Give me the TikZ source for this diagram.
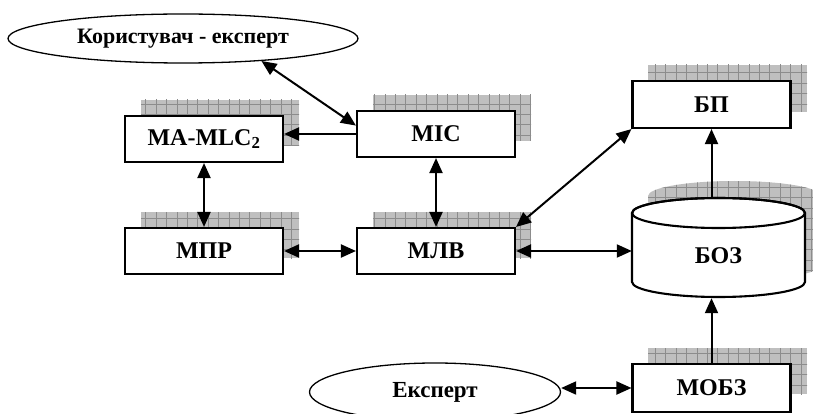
\documentclass[tikz,border=0pt]{standalone}
\usepackage{fontspec}
\setmainfont{Liberation Serif}
\usetikzlibrary{arrows.meta,shapes.geometric}
\newcommand\gridshade[4]{%
  \begin{scope}
    \clip (#1,#2) rectangle (#3,#4);
    \fill[shfill] (#1,#2) rectangle (#3,#4);
    \draw[shgrid,step=10.4pt] (#1-2,#4+2) grid (#3+2,#2-2);
  \end{scope}}
\begin{document}
\begin{tikzpicture}[x=1pt,y=-1pt,
  box/.style={draw,line width=2.1pt,fill=white,minimum width=158pt,minimum height=46pt,inner sep=0pt,font=\fontsize{24}{24}\selectfont\bfseries},
  oval/.style={draw,ellipse,line width=1.3pt,fill=white,inner sep=0pt},
  arr/.style={line width=2pt,-{Triangle[length=15pt,width=13pt]}},
  darr/.style={line width=2pt,{Triangle[length=15pt,width=13pt]}-{Triangle[length=15pt,width=13pt]}},
  shfill/.style={fill=black!25},
  shgrid/.style={draw=black!45,line width=0.6pt}]
\useasboundingbox (0,0) rectangle (813,414);

% shadows
\gridshade{141}{100}{299}{146}
\gridshade{373}{95}{531}{141}
\gridshade{141}{212}{299}{258}
\gridshade{373}{212}{531}{258}
\gridshade{648}{65}{807}{112}
\gridshade{648}{348}{807}{394}
\begin{scope}
  \clip (648,196) -- (648,265) arc[start angle=180,end angle=0,x radius=86.5,y radius=15]
        -- (821,196) arc[start angle=0,end angle=-180,x radius=86.5,y radius=15] -- cycle;
  \fill[shfill] (640,175) rectangle (830,290);
  \draw[shgrid,step=10.4pt] (640,290) grid (830,175);
\end{scope}

% cylinder
\filldraw[fill=white,line width=2.1pt] (632,213) -- (632,282)
   arc[start angle=180,end angle=0,x radius=86.5,y radius=15] -- (805,213)
   arc[start angle=0,end angle=-180,x radius=86.5,y radius=15] -- cycle;
\draw[line width=2.1pt] (718.5,213) ellipse[x radius=86.5,y radius=15];
\node[font=\fontsize{24}{24}\selectfont\bfseries,minimum width=173pt,minimum height=84pt,inner sep=0pt] (boz) at (718.5,256) {БОЗ};
\coordinate (boztop) at (711.5,198);

% nodes
\node[oval,minimum width=350pt,minimum height=49pt,font=\fontsize{22}{22}\selectfont\bfseries] (user) at (183,38.5) {Користувач - експерт};
\node[oval,minimum width=251pt,minimum height=58pt,font=\fontsize{23}{23}\selectfont\bfseries] (expert) at (435,392) {Експерт};
\node[box] (ma) at (204,139) {MA-MLC\textsubscript{2}};
\node[box] (mic) at (436,134) {МІС};
\node[box] (mpr) at (204,251) {МПР};
\node[box] (mlb) at (436,251) {МЛВ};
\node[box,minimum height=47pt] (bp) at (711.5,104.5) {БП};
\node[box,minimum height=48pt] (mobz) at (711.5,388) {МОБЗ};

% connectors
\draw[darr] (user.-16) -- (mic.174);
\draw[arr] (mic.west) -- (mic.west -| ma.east);
\draw[darr] (ma) -- (mpr);
\draw[darr] (mic) -- (mlb);
\draw[darr] (mpr) -- (mlb);
\draw[darr] (mlb.north east) -- (bp.south west);
\draw[darr] (mlb.east) -- (mlb.east -| boz.west);
\draw[arr] (boztop) -- (bp.south);
\draw[arr] (mobz.north) -- (mobz.north |- boz.south);
\draw[darr] (mobz.west) -- (mobz.west -| expert.east);
\end{tikzpicture}
\end{document}
